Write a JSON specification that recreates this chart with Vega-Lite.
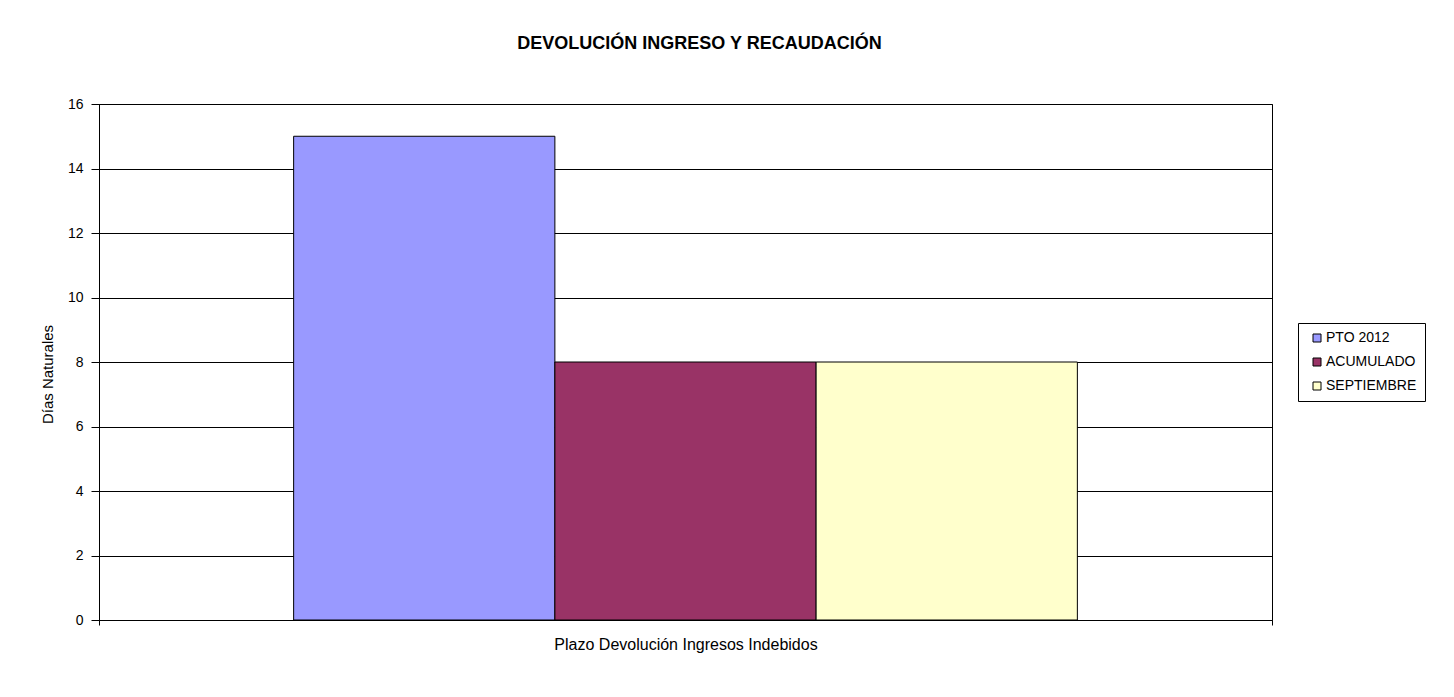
{
  "$schema": "https://vega.github.io/schema/vega-lite/v6.json",
  "width": 1173,
  "height": 516,
  "autosize": "none",
  "padding": {"left": 99, "top": 104, "right": 182, "bottom": 77},
  "background": "white",
  "title": {
    "text": "DEVOLUCIÓN INGRESO Y RECAUDACIÓN",
    "font": "Liberation Sans",
    "fontSize": 18,
    "fontWeight": "bold",
    "color": "black",
    "anchor": "middle",
    "baseline": "alphabetic",
    "offset": 30,
    "dx": 14
  },
  "data": {
    "values": [
      {"category": "Plazo Devolución Ingresos Indebidos", "series": "PTO 2012", "value": 15},
      {"category": "Plazo Devolución Ingresos Indebidos", "series": "ACUMULADO", "value": 8},
      {"category": "Plazo Devolución Ingresos Indebidos", "series": "SEPTIEMBRE", "value": 8}
    ]
  },
  "mark": {"type": "bar", "stroke": "black", "strokeWidth": 1},
  "encoding": {
    "x": {
      "field": "category",
      "type": "nominal",
      "scale": {"paddingInner": 0, "paddingOuter": 0},
      "axis": {
        "title": null,
        "labelAngle": 0,
        "tickBand": "extent",
        "tickSize": 5,
        "labelPadding": 11,
        "labelFontSize": 16,
        "labelLimit": 600
      }
    },
    "xOffset": {
      "field": "series",
      "sort": ["PTO 2012", "ACUMULADO", "SEPTIEMBRE"],
      "scale": {"paddingInner": 0, "paddingOuter": 0.745}
    },
    "y": {
      "field": "value",
      "type": "quantitative",
      "scale": {"domain": [0, 16], "nice": false},
      "axis": {
        "values": [0, 2, 4, 6, 8, 10, 12, 14, 16],
        "title": "Días Naturales",
        "titleFontSize": 15,
        "titleFontWeight": "normal",
        "titleX": -44,
        "titleY": 270,
        "titleAlign": "center",
        "grid": true,
        "tickSize": 8,
        "labelPadding": 8,
        "labelFontSize": 14
      }
    },
    "color": {
      "field": "series",
      "type": "nominal",
      "scale": {
        "domain": ["PTO 2012", "ACUMULADO", "SEPTIEMBRE"],
        "range": ["#9999FF", "#993366", "#FFFFCC"]
      },
      "legend": {
        "title": null,
        "orient": "none",
        "legendX": 1199,
        "legendY": 219,
        "strokeColor": "black",
        "fillColor": "white",
        "padding": 8,
        "symbolOffset": 4,
        "symbolType": "square",
        "symbolSize": 64,
        "symbolStrokeColor": "black",
        "symbolStrokeWidth": 1,
        "labelFontSize": 14,
        "labelOffset": 2,
        "rowPadding": 10,
        "labelColor": "black"
      }
    }
  },
  "config": {
    "font": "Liberation Sans",
    "view": {"stroke": "black", "strokeWidth": 1},
    "axis": {
      "domainColor": "black",
      "tickColor": "black",
      "gridColor": "black",
      "gridOpacity": 1,
      "labelColor": "black",
      "titleColor": "black",
      "labelFont": "Liberation Sans",
      "titleFont": "Liberation Sans"
    },
    "legend": {"labelFont": "Liberation Sans"}
  }
}
